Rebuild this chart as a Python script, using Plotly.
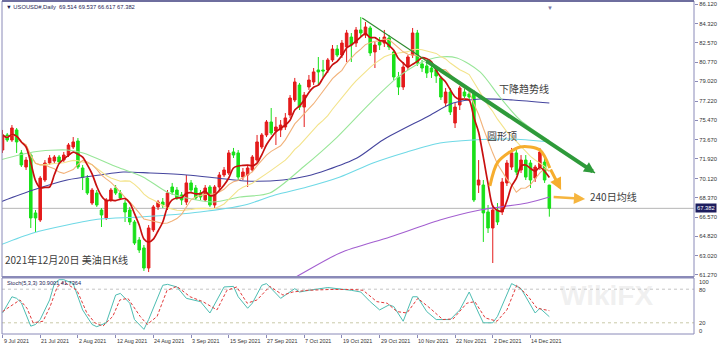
import plotly.graph_objects as go
import pandas as pd

# ---------------- data ----------------
opens = [72.73, 74.11, 73.65, 74.57, 72.46, 71.17, 72.27, 66.96, 66.31, 69.98,
         71.54, 71.72, 72.09, 71.81, 72.27, 73.01, 73.56, 71.08, 70.16, 67.87,
         68.79, 67.23, 66.50, 68.15, 69.25, 68.79, 67.87, 67.23, 66.13, 64.48,
         63.75, 61.91, 65.40, 67.51, 67.96, 67.51, 69.34, 69.06, 68.61, 67.96,
         69.71, 69.25, 68.79, 68.15, 69.34, 67.69, 69.34, 70.44, 70.62, 72.55,
         72.46, 70.25, 70.44, 70.90, 71.81, 73.01, 74.11, 75.30, 74.47, 74.57,
         74.84, 75.94, 77.32, 78.69, 76.67, 78.51, 78.97, 80.07, 80.07, 80.07,
         80.99, 81.99, 81.44, 82.18, 83.09, 82.54, 83.74, 83.28, 83.92, 81.72,
         82.64, 82.54, 83.00, 81.72, 79.43, 78.51, 80.34, 81.44, 83.46, 80.62,
         80.44, 80.25, 80.07, 79.34, 77.04, 78.05, 75.21, 76.86, 78.05, 77.87,
         77.96, 69.52, 69.52, 67.05, 65.58, 67.23, 67.05, 69.71, 71.17, 72.46,
         70.90, 71.81, 71.54, 70.16, 71.17, 71.63, 69.514]
highs = [74.57, 74.29, 75.02, 74.75, 72.73, 72.09, 72.46, 67.23, 70.35, 71.81,
         72.27, 72.27, 72.27, 72.55, 73.37, 73.92, 73.83, 71.36, 70.44, 69.25,
         69.06, 67.41, 68.33, 69.25, 69.52, 69.06, 68.15, 67.51, 66.31, 64.75,
         64.02, 65.85, 67.69, 68.15, 68.33, 69.06, 69.71, 69.34, 68.88, 70.44,
         69.98, 69.52, 69.06, 69.52, 69.52, 69.52, 70.71, 71.17, 72.73, 72.92,
         72.73, 71.08, 71.36, 72.27, 74.11, 74.29, 75.48, 76.58, 75.76, 75.48,
         76.12, 77.77, 79.34, 78.88, 78.05, 79.61, 80.25, 81.26, 80.99, 81.17,
         82.36, 82.36, 82.82, 83.74, 83.46, 84.01, 84.93, 84.47, 84.10, 82.64,
         83.09, 83.74, 83.28, 81.90, 79.89, 80.80, 81.44, 83.92, 83.74, 80.99,
         80.80, 80.53, 80.44, 79.52, 78.42, 78.42, 77.04, 78.60, 78.42, 78.24,
         78.24, 71.81, 69.98, 67.69, 67.69, 67.87, 70.16, 71.81, 72.92, 72.73,
         72.27, 72.27, 71.81, 71.36, 72.92, 72.00, 69.537]
lows = [72.46, 73.47, 73.47, 72.46, 71.17, 70.90, 65.58, 65.21, 66.13, 69.80,
        71.36, 71.54, 71.45, 71.63, 72.09, 72.82, 70.99, 69.06, 68.61, 67.69,
        67.51, 65.67, 66.31, 67.96, 68.61, 68.15, 66.13, 65.85, 64.02, 63.29,
        61.64, 61.54, 65.21, 67.23, 67.41, 67.23, 68.61, 68.15, 67.69, 67.69,
        68.79, 68.15, 68.15, 67.96, 67.51, 67.41, 69.06, 70.25, 70.44, 72.00,
        69.98, 69.98, 69.34, 70.71, 71.63, 72.82, 73.92, 74.11, 73.19, 73.92,
        74.57, 75.67, 77.13, 76.40, 74.84, 78.24, 78.69, 78.69, 79.34, 79.79,
        80.80, 81.26, 81.17, 80.80, 80.80, 82.18, 83.09, 83.00, 81.35, 80.25,
        81.90, 82.18, 81.90, 79.15, 77.77, 78.24, 80.07, 81.17, 80.44, 79.89,
        79.34, 79.34, 78.88, 77.32, 76.67, 75.94, 74.75, 76.40, 77.50, 77.32,
        67.96, 68.79, 64.30, 65.12, 62.37, 65.85, 66.77, 69.43, 70.90, 70.44,
        70.62, 69.98, 69.25, 69.80, 70.90, 69.71, 66.617]
closes = [74.11, 73.65, 74.75, 73.47, 71.36, 71.81, 66.50, 66.50, 70.16, 71.54,
          72.00, 72.09, 71.63, 72.27, 73.19, 73.47, 71.17, 70.25, 68.79, 69.06,
          67.69, 66.77, 68.15, 69.06, 68.79, 68.33, 67.05, 66.13, 64.20, 63.56,
          61.91, 65.58, 67.51, 67.96, 67.69, 68.79, 68.88, 68.33, 68.15, 69.71,
          69.06, 68.33, 68.42, 69.25, 67.69, 69.34, 70.44, 70.90, 72.46, 72.27,
          70.25, 70.71, 71.08, 72.09, 73.47, 74.11, 75.30, 74.29, 74.84, 75.02,
          75.67, 77.50, 78.97, 76.67, 77.77, 79.15, 79.89, 79.89, 79.98, 80.99,
          81.99, 81.44, 82.54, 83.46, 82.36, 83.74, 83.46, 84.01, 81.63, 82.36,
          82.36, 83.09, 82.18, 79.43, 78.51, 80.34, 81.26, 83.46, 80.71, 80.25,
          79.79, 79.89, 79.52, 77.59, 78.05, 76.22, 76.67, 78.42, 77.68, 77.59,
          68.15, 69.98, 66.96, 65.58, 67.23, 66.13, 69.80, 71.54, 72.46, 70.71,
          71.81, 70.25, 69.98, 71.17, 72.55, 69.98, 67.382]
bar_pos = list(range(len(closes)))

date_labels = ["9 Jul 2021", "21 Jul 2021", "2 Aug 2021", "12 Aug 2021", "24 Aug 2021",
               "3 Sep 2021", "15 Sep 2021", "27 Sep 2021", "7 Oct 2021", "19 Oct 2021",
               "29 Oct 2021", "10 Nov 2021", "22 Nov 2021", "2 Dec 2021", "14 Dec 2021"]
date_pos = [0, 8, 16, 24, 32, 40, 48, 56, 64, 72, 80, 88, 96, 104, 112]

price_ticks = [86.12, 84.32, 82.57, 80.77, 79.02, 77.22, 75.47, 73.67, 71.92,
               70.12, 68.37, 66.57, 64.82, 63.02, 61.27]
last_price = 67.382
header_text = "\u25bc USOUSD#,Daily  69.514 69.537 66.617 67.382"

# longer moving averages
ma30_pos = [-0.5, 6.5, 13.7, 17.1, 24.3, 29.8, 34.9, 39.1, 44.7, 50.4, 56.7, 63.8,
            71.0, 78.0, 83.7, 88.6, 92.8, 96.4, 101.3, 105.5, 109.8, 116]
ma30_val = [71.81, 72.55, 72.73, 72.46, 71.17, 70.26, 68.88, 68.33, 67.96, 68.42, 68.79,
            71.17, 73.92, 77.04, 79.34, 80.71, 81.26, 81.17, 79.89, 77.59, 75.48, 73.58]
ma60_pos = [-0.5, 6.5, 13.7, 20.7, 25.6, 31.3, 39.1, 45.5, 51.4, 59.5, 64.6, 68.8,
            75.2, 80.7, 90.0, 95.6, 101.3, 108.3, 116]
ma60_val = [67.96, 69.06, 69.98, 70.44, 70.71, 70.62, 70.44, 70.16, 69.89, 69.98, 70.35,
            70.90, 72.00, 73.65, 75.76, 77.04, 77.41, 77.32, 77.04]
ma120_pos = [-0.5, 6.5, 13.7, 20.7, 29.2, 41.9, 51.4, 57.8, 64.6, 71.6, 78.6, 85.8,
             92.8, 99.8, 107.7, 116]
ma120_val = [64.02, 65.12, 65.85, 66.40, 66.59, 67.05, 67.69, 68.61, 69.34, 70.26, 71.54,
             72.55, 73.37, 73.65, 73.74, 73.47]
ma240_pos = [58, 61, 71.6, 82.2, 92.8, 101.3, 111.3, 116]
ma240_val = [60.30, 60.81, 63.29, 64.75, 66.31, 67.23, 67.87, 68.42]

# stochastic (5,3,3)
stoch_k_pos = [0, 2, 3, 4, 6, 7, 8, 10, 11, 12, 13, 15, 17, 19, 20, 22, 24, 25, 27, 28,
               30, 31, 34, 35, 37, 39, 42, 44, 47, 49, 50, 52, 53, 55, 56, 59, 62, 63,
               65, 69, 74, 76, 78, 80, 82, 83, 85, 87, 88, 90, 92, 95, 97, 99, 101,
               102, 104, 105, 108, 110, 113, 114, 116]
stoch_k = [37.5, 66.5, 63.7, 55.5, 14, 17, 25.8, 60.8, 90, 97, 97, 90, 43, 17, 13, 20,
           69.5, 72.5, 55, 25.8, 8.3, 25.8, 87, 88.7, 84, 63.7, 57.8, 37.5, 84, 85, 66.5,
           46, 55, 87, 90, 63.7, 81, 75, 78, 83, 78, 75, 57.8, 43, 52, 49, 22.8, 66.5,
           66.5, 40, 25.8, 25.8, 43, 75, 37.5, 20, 20, 31.5, 90, 81, 37.5, 46, 30.9]
stoch_d_pos = [0, 3.7, 5.2, 6.5, 8.6, 10.1, 11.6, 13, 15.8, 17.9, 19.6, 21.3, 23.4, 24.9,
               26.6, 29.2, 30.7, 32.8, 34.9, 37, 39.8, 42.5, 45.5, 47.6, 49.7, 51.9, 54,
               56.7, 59.5, 61.6, 64.6, 69.5, 74.4, 76.5, 79.4, 81.6, 83.7, 85.8, 88.1,
               90.7, 93.4, 95.6, 98.5, 100.2, 102.4, 104.9, 107, 109.1, 111.3, 113.4, 116]
stoch_d = [40, 60.8, 46, 20, 22.8, 49, 84, 93, 78, 37.5, 20, 14, 31.5, 60.8, 63.7, 31.5,
           17, 31.5, 78, 85, 66.5, 57.8, 43, 78, 84, 55, 60.8, 85, 69.5, 75, 78, 79.5,
           79.5, 78, 57.8, 55, 40, 37.5, 63.7, 46, 25.8, 27, 55, 57.8, 28.7, 22.8, 43,
           87, 69.5, 46, 41.7364]
stoch_levels = [80, 20]
stoch_title = "Stoch(5,3,3) 30.9001 41.7364"

# hand-drawn annotations (bar position, price)
trend_pos = [76.3, 125.7]
trend_val = [84.84, 70.62]
trend_thick_start = [89.6, 80.99]
arc_pos = [103.4, 105.1, 109.8, 114.0, 116.1]
arc_val = [69.43, 71.63, 73.01, 72.73, 71.08]
arc_tip = [118.5, 69.06]
ma240_arrow_pos = [116.6, 123.6]
ma240_arrow_val = [68.42, 68.24]

# ---------------- layout geometry ----------------
W, H = 720, 348
ML, MR, MT, MB = 2, 26, 1, 14
PH = H - MT - MB


def py(pix):
    return (H - MB - pix) / PH


def pxp(pix):
    return (pix - ML) / (W - ML - MR)


y_top, y_bot = 86.395, 61.086
x_lo, x_hi = -0.106, 146.69

RED = "#e41b1b"
GREEN = "#19e019"
FRAME = "#8a8ab8"
TXT = "#1e1e55"
SMALL = "Liberation Sans, Arial, sans-serif"
CJK = "Noto Sans CJK SC, sans-serif"

s = pd.Series(closes)
ma5 = s.rolling(5, min_periods=1).mean()
ma10 = s.rolling(10, min_periods=1).mean()
ma20 = s.rolling(20, min_periods=1).mean()

fig = go.Figure()
fig.add_trace(go.Candlestick(
    x=bar_pos, open=opens, high=highs, low=lows, close=closes,
    increasing=dict(line=dict(color=RED, width=1), fillcolor=RED),
    decreasing=dict(line=dict(color=GREEN, width=1), fillcolor=GREEN),
    whiskerwidth=0, xaxis="x", yaxis="y", showlegend=False, hoverinfo="skip"))


def line(xs, ys, color, width, yaxis="y", shape="spline", dash="solid"):
    extra = {"smoothing": 0.8} if shape == "spline" else {}
    fig.add_trace(go.Scatter(x=list(xs), y=list(ys), mode="lines", xaxis="x", yaxis=yaxis,
                             line=dict(color=color, width=width, shape=shape, dash=dash, **extra),
                             showlegend=False, hoverinfo="skip"))


line(ma240_pos, ma240_val, "#a35fd0", 1.1)
line(ma120_pos, ma120_val, "#6fd9e6", 1.1)
line(ma60_pos, ma60_val, "#45459e", 1.1)
line(ma30_pos, ma30_val, "#98e698", 1.1)
line(bar_pos, ma20, "#f3e38a", 1.1, shape="linear")
line(bar_pos, ma10, "#f2b27a", 1.1, shape="linear")
line(bar_pos, ma5, "#c81010", 1.7, shape="spline")
line(trend_pos, trend_val, "#2f8a2f", 1.2, shape="linear")
line(arc_pos, arc_val, "#f6ad2e", 3, shape="spline")

# stochastic
line(stoch_k_pos, stoch_k, "#4dbdb2", 1, yaxis="y2", shape="linear")
line(stoch_d_pos, stoch_d, "#e23a3a", 1, yaxis="y2", shape="linear", dash="3px,2px")

shapes = []
shapes.append(dict(type="line", xref="paper", yref="y", x0=0, x1=1, y0=last_price,
                   y1=last_price, line=dict(color="#b5b5b5", width=1), layer="below"))
for lv in stoch_levels:
    shapes.append(dict(type="line", xref="paper", yref="y2", x0=0, x1=1, y0=lv, y1=lv,
                       line=dict(color="#c9c9a8" if lv == 20 else "#c4c4c4", width=1,
                                 dash="dot"), layer="below"))
shapes.append(dict(type="rect", xref="paper", yref="paper", x0=0, x1=1, y0=py(277), y1=1,
                   line=dict(color=FRAME, width=1)))
shapes.append(dict(type="line", xref="paper", yref="paper", x0=0, x1=1, y0=1, y1=1,
                   line=dict(color="#6e6e9e", width=2)))
shapes.append(dict(type="line", xref="paper", yref="paper", x0=0, x1=1, y0=py(277),
                   y1=py(277), line=dict(color=FRAME, width=2)))
shapes.append(dict(type="rect", xref="paper", yref="paper", x0=0, x1=1, y0=0, y1=py(278),
                   line=dict(color=FRAME, width=1)))

ann = []
ann.append(dict(x=trend_pos[1], y=trend_val[1], ax=trend_thick_start[0], ay=trend_thick_start[1],
                xref="x", yref="y", axref="x", ayref="y", text="", showarrow=True,
                arrowhead=2, arrowsize=0.55, arrowwidth=4, arrowcolor="#2e9a3a", standoff=0))
ann.append(dict(x=arc_tip[0], y=arc_tip[1], ax=arc_pos[-1], ay=arc_val[-1],
                xref="x", yref="y", axref="x", ayref="y", text="", showarrow=True,
                arrowhead=2, arrowsize=0.8, arrowwidth=3, arrowcolor="#f6ad2e", standoff=0))
ann.append(dict(x=ma240_arrow_pos[1], y=ma240_arrow_val[1], ax=ma240_arrow_pos[0],
                ay=ma240_arrow_val[0], xref="x", yref="y", axref="x", ayref="y", text="",
                showarrow=True, arrowhead=2, arrowsize=0.9, arrowwidth=2.5,
                arrowcolor="#f6b53e", standoff=0))
ann.append(dict(x=110.6, y=78.33, xref="x", yref="y", text="下降趋势线", showarrow=False,
                font=dict(family=CJK, size=10, color="#3c3c3c")))
ann.append(dict(x=105.96, y=74.02, xref="x", yref="y", text="圆形顶", showarrow=False,
                font=dict(family=CJK, size=10, color="#3c3c3c")))
ann.append(dict(x=124.2, y=68.51, xref="x", yref="y", text="240日均线", showarrow=False,
                xanchor="left", font=dict(family=CJK, size=10, color="#3c3c3c")))
ann.append(dict(x=pxp(3), y=py(269), xref="paper", yref="paper", xanchor="left",
                text="2021年12月20日 美油日K线", showarrow=False,
                font=dict(family=CJK, size=10, color="#3c3c3c")))
ann.append(dict(x=pxp(4), y=py(7), xref="paper", yref="paper", xanchor="left", yanchor="middle",
                text=header_text, showarrow=False, font=dict(family=SMALL, size=5.8, color=TXT)))
ann.append(dict(x=pxp(5), y=py(283), xref="paper", yref="paper", xanchor="left",
                yanchor="middle", text=stoch_title, showarrow=False,
                font=dict(family=SMALL, size=5.6, color=TXT)))
for lbl, pos in zip(date_labels, date_pos):
    ann.append(dict(x=pos, y=py(340.5), xref="x", yref="paper", xanchor="left", yanchor="middle",
                    xshift=-1, text=lbl, showarrow=False,
                    font=dict(family=SMALL, size=5.4, color="#333")))
for lbl, pix in zip(["100", "80", "20", "0"], [282, 290, 323, 331]):
    ann.append(dict(x=1, y=py(pix), xref="paper", yref="paper", xanchor="left", yanchor="middle",
                    xshift=3, text=lbl, showarrow=False,
                    font=dict(family=SMALL, size=5.8, color="#333")))
ann.append(dict(x=1, y=last_price, xref="paper", yref="y", xanchor="left", yanchor="middle",
                xshift=1, text=f"{last_price:.3f}", showarrow=False, bgcolor="#1d1d5e",
                borderpad=1, font=dict(family=SMALL, size=5.8, color="white")))
ann.append(dict(x=pxp(555), y=py(3), xref="paper", yref="paper", text="\u25bc", showarrow=False,
                font=dict(family=SMALL, size=6, color="#7a7aa8")))
ann.append(dict(x=pxp(655), y=py(313), xref="paper", yref="paper", text="<b>WikiFX</b>",
                showarrow=False, font=dict(family=SMALL, size=28, color="rgba(205,205,205,0.3)")))

fig.update_layout(
    width=W, height=H, margin=dict(l=ML, r=MR, t=MT, b=MB),
    paper_bgcolor="white", plot_bgcolor="white",
    boxgap=0.4, boxgroupgap=0.1,
    showlegend=False,
    xaxis=dict(range=[x_lo, x_hi], anchor="y2", showgrid=False, zeroline=False,
               showline=False, ticks="outside", ticklen=3, tickcolor=FRAME,
               tickvals=date_pos, showticklabels=False, rangeslider=dict(visible=False),
               fixedrange=True),
    yaxis=dict(domain=[py(277), 1], range=[y_bot, y_top], side="right", anchor="x",
               showgrid=False, zeroline=False, ticks="outside", ticklen=3, tickcolor=FRAME,
               tickvals=price_ticks, ticktext=[f"{v:.3f}" for v in price_ticks],
               tickfont=dict(family=SMALL, size=5.8, color="#333")),
    yaxis2=dict(domain=[0, py(278)], range=[0, 100], side="right", anchor="x",
                showgrid=False, zeroline=False, showticklabels=False, ticks=""),
    shapes=shapes, annotations=ann,
)

fig.write_html("out.html")
